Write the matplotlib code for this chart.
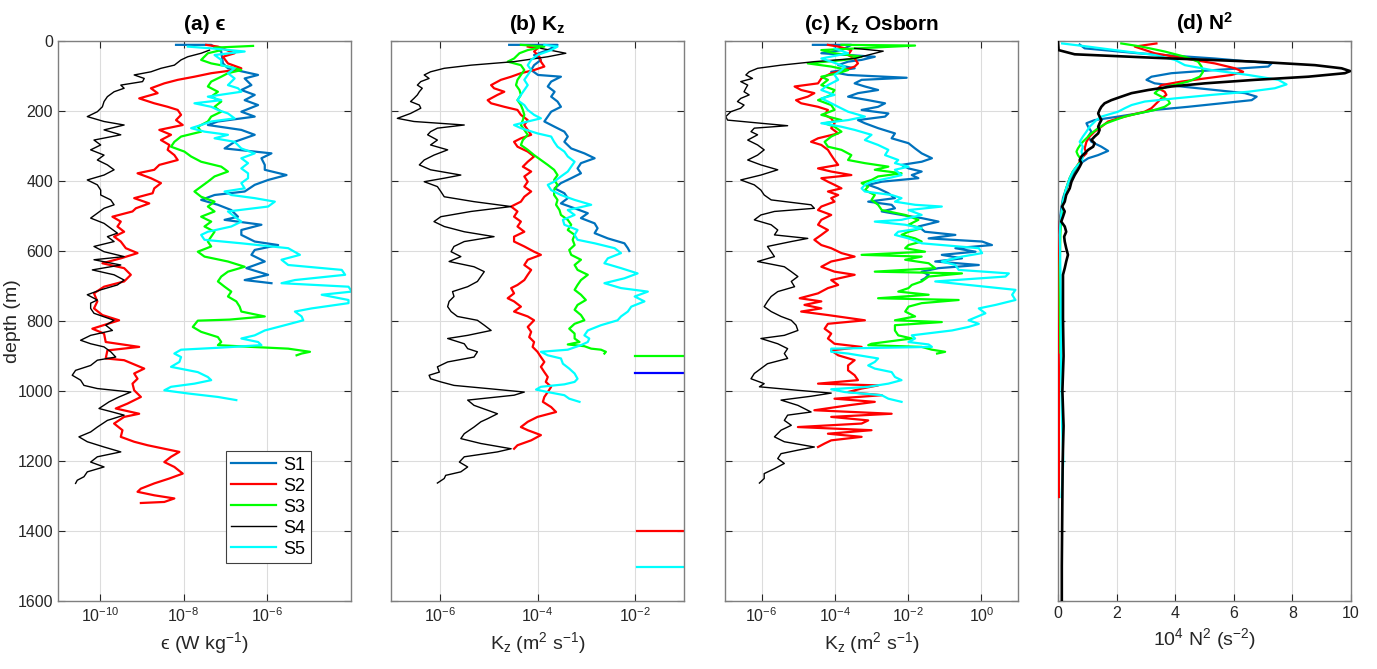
import numpy as np
import matplotlib.pyplot as plt
from matplotlib.ticker import NullLocator

plt.rcParams['font.family'] = ['Liberation Sans', 'DejaVu Sans']
plt.rcParams['mathtext.fontset'] = 'custom'
plt.rcParams['mathtext.rm'] = 'Liberation Sans'
plt.rcParams['mathtext.it'] = 'Liberation Sans:italic'
plt.rcParams['mathtext.bf'] = 'Liberation Sans:bold'

stations = ['S1', 'S2', 'S3', 'S4', 'S5']
colors = ['#0072BD', '#FF0000', '#00FF00', '#000000', '#00FFFF']

# ---------- (a) epsilon : depth (m) and log10(eps) ----------
eps1_z = [11, 11, 30, 64, 78, 97, 107, 126, 140, 154, 169, 183, 202, 216, 230, 240, 254, 268, 288, 307,
          321, 335, 354, 368, 383, 397, 411, 430, 440, 454, 468, 483, 502, 511, 525, 540, 554, 573, 583, 597,
          611, 630, 649, 668, 683, 692]
eps1_v = [-8.18, -7.34, -7.1, -7.06, -6.94, -6.22, -6.54, -6.38, -6.62, -6.30, -6.54, -6.22, -6.62, -6.30, -7.18,
          -7.42, -6.62, -6.30, -6.78, -7.02, -5.90, -6.14, -6.06, -6.06, -5.54, -5.98, -6.30, -6.54, -7.26, -7.58,
          -7.18, -6.86, -6.70, -7.02, -6.14, -6.62, -6.62, -6.30, -5.74, -6.30, -6.38, -6.06, -6.50, -5.98, -6.54,
          -5.90]
eps2_z = [11, 16, 35, 45, 64, 78, 83, 92, 102, 111, 121, 135, 149, 164, 178, 188, 197, 211, 226, 240,
          254, 268, 283, 297, 311, 326, 340, 354, 368, 378, 392, 406, 421, 435, 449, 464, 478, 487, 502, 516,
          530, 545, 559, 573, 592, 606, 621, 635, 649, 668, 687, 702, 721, 744, 764, 783,
          798, 822, 836, 860, 874, 884, 907, 912, 936, 950, 965, 979, 998, 1017, 1036, 1050, 1065, 1074, 1093,
          1112, 1131, 1145, 1155, 1165, 1174, 1188, 1203, 1217, 1236, 1250, 1264, 1279, 1288, 1298, 1307, 1317,
          1320]
eps2_v = [-7.46, -7.18, -6.78, -7.06, -6.94, -6.62, -6.78, -7.34, -7.74, -8.14, -8.46, -8.78, -8.62, -9.06, -8.70,
          -8.38, -8.14, -8.06, -8.18, -8.02, -8.58, -8.30, -8.54, -8.34, -8.38, -8.22, -8.14, -8.58, -8.70, -9.10,
          -8.78, -8.54, -8.70, -8.74, -9.18, -8.82, -9.14, -9.22, -9.70, -9.50, -9.58, -9.42, -9.66, -9.50, -9.38,
          -9.10, -9.50, -9.94, -9.42, -9.26, -9.42, -9.90, -10.14, -10.06, -10.14, -9.94,
          -9.54, -10.18, -9.90, -9.86, -9.06, -9.82, -9.86, -9.42, -8.94, -9.18, -9.10, -9.22, -9.18, -9.02, -9.34,
          -9.62, -9.06, -9.42, -9.66, -9.46, -9.50, -9.18, -8.86, -8.46, -8.10, -8.30, -8.46, -8.22, -8.02, -8.34,
          -8.70, -9.02, -9.10, -8.70, -8.22, -8.46, -9.02]
eps3_z = [14, 19, 26, 35, 54, 64, 73, 83, 92, 102, 116, 130, 145, 159, 173, 188, 202, 216, 230, 245,
          259, 273, 288, 302, 316, 330, 345, 359, 373, 387, 402, 416, 430, 445, 459, 473, 487, 502, 516, 530,
          545, 559, 573, 587, 602, 616, 630, 645, 659, 673, 687, 702, 716, 730, 744, 759, 773, 787,
          796, 799, 817, 831, 846, 860, 869, 874, 879, 888, 893, 898]
eps3_v = [-6.34, -7.26, -7.10, -7.42, -7.58, -7.34, -6.94, -6.62, -6.94, -7.10, -7.34, -7.42, -7.18, -7.34, -7.10,
          -7.26, -7.10, -7.34, -7.42, -7.66, -7.58, -8.06, -8.22, -8.30, -7.98, -7.82, -7.58, -7.10, -6.94, -7.26,
          -7.42, -7.58, -7.74, -7.58, -7.26, -7.42, -7.26, -7.58, -7.34, -7.50, -7.26, -7.34, -7.42, -7.34, -7.66,
          -7.50, -6.94, -6.54, -6.94, -7.10, -7.18, -7.02, -6.86, -6.94, -6.74, -6.66, -6.62, -6.06,
          -6.9, -7.66, -7.78, -7.58, -7.18, -7.10, -7.18, -6.38, -5.50, -4.98, -5.18, -5.30]
eps4_z = [26, 35, 45, 54, 69, 78, 88, 97, 107, 116, 126, 135, 145, 159, 173, 188, 202, 216, 230, 240,
          254, 268, 283, 297, 311, 326, 340, 354, 368, 383, 397, 411, 426, 440, 454, 468, 478, 492, 506, 521,
          535, 549, 559, 573, 587, 602, 616, 625, 640, 654, 668, 683, 697, 711, 725, 740, 749, 764, 778,
          798, 812, 827, 841, 855, 865, 874, 888, 903, 912, 927, 941, 955, 969, 984, 993, 1003, 1017, 1031, 1050,
          1060, 1069, 1084, 1103, 1117, 1131, 1145, 1160, 1174, 1188, 1203, 1217, 1231, 1245, 1255, 1264]
eps4_v = [-7.38, -7.58, -7.90, -8.06, -8.22, -8.54, -8.78, -9.18, -8.94, -8.98, -9.50, -9.42, -9.66, -9.82, -9.90,
          -9.94, -10.06, -10.30, -9.90, -9.42, -9.90, -9.50, -10.14, -9.98, -10.22, -9.90, -10.06, -9.82, -9.66,
          -9.90, -10.30, -10.06, -9.98, -9.98, -9.74, -9.66, -9.90, -10.06, -10.22, -9.90, -9.74, -9.58, -9.82,
          -9.66, -10.14, -9.90, -9.42, -10.14, -9.50, -10.18, -9.66, -9.42, -9.58, -9.98, -10.30, -10.06, -10.22,
          -10.22, -10.14,
          -9.66, -9.86, -9.70, -10.22, -10.46, -10.22, -9.90, -9.74, -9.62, -10.06, -10.22, -10.58, -10.66, -10.46,
          -10.38, -10.06, -9.26, -9.54, -9.78, -10.02, -9.70, -9.42, -9.82, -10.06, -10.22, -10.50, -10.30, -9.90,
          -9.50, -10.06, -10.22, -9.90, -10.30, -10.38, -10.54, -10.58]
eps5_z = [16, 21, 30, 40, 54, 69, 78, 92, 107, 126, 135, 145, 159, 169, 178, 188, 197, 207, 221, 230,
          240, 249, 259, 268, 278, 288, 307, 321, 335, 349, 364, 378, 392, 406, 421, 430, 440, 449, 459, 473,
          487, 502, 516, 530, 545, 554, 568, 578, 592, 611, 625, 640, 654, 668, 683, 692, 702, 716, 725, 740,
          749, 764, 773, 787,
          798, 812, 827, 841, 850, 860, 869, 876, 882, 893, 903, 917, 931, 946, 960, 969, 979, 988, 998, 1007,
          1017, 1026]
eps5_v = [-7.90, -7.34, -6.54, -7.26, -7.10, -7.10, -6.78, -6.94, -6.78, -6.94, -6.70, -6.62, -7.42, -7.10, -7.74,
          -7.34, -7.18, -6.94, -6.78, -7.34, -7.58, -7.82, -7.50, -6.94, -7.26, -6.78, -6.62, -6.30, -6.62, -6.46,
          -6.62, -6.46, -6.46, -6.62, -6.54, -7.02, -6.86, -6.30, -5.82, -5.98, -6.94, -6.78, -6.62, -6.86, -7.42,
          -7.58, -7.50, -6.62, -5.50, -5.22, -5.66, -5.50, -4.22, -4.14, -5.34, -5.66, -4.06, -3.98, -4.70, -4.06,
          -4.06, -4.94, -5.34, -5.18,
          -5.14, -5.58, -6.06, -6.30, -6.62, -6.22, -6.14, -7.10, -8.06, -8.22, -8.06, -8.10, -8.30, -7.66, -7.42,
          -7.34, -7.74, -8.30, -8.46, -7.90, -7.18, -6.74]

# ---------- (b) Kz : depth (m) and log10(Kz) ----------
kz1_z = [11, 11, 26, 40, 54, 69, 83, 97, 102, 116, 130, 145, 159, 173, 188, 202, 216, 230, 245, 259,
         273, 288, 307, 321, 335, 349, 364, 378, 392, 406, 421, 435, 449, 464, 478, 492, 506, 521, 535, 549,
         564, 578, 592, 600]
kz1_v = [-4.58, -3.59, -3.79, -4.07, -3.93, -4.07, -4.13, -3.99, -3.52, -3.72, -3.79, -3.65, -3.72, -3.59, -3.52,
         -3.72, -3.79, -3.86, -3.65, -3.45, -3.38, -3.45, -3.31, -3.04, -2.83, -3.11, -3.18, -3.11, -3.31, -3.52,
         -3.65, -3.45, -3.38, -3.52, -3.24, -2.97, -3.11, -2.83, -2.77, -2.83, -2.56, -2.22, -2.15, -2.12]
kz2_z = [16, 21, 30, 45, 59, 73, 83, 92, 102, 111, 126, 135, 145, 154, 169, 178, 188, 197, 211, 226,
         240, 254, 268, 278, 288, 302, 316, 330, 345, 359, 373, 387, 402, 416, 430, 445, 459, 473, 487, 502,
         516, 530, 545, 559, 573, 587, 602, 611, 625, 640, 654, 668, 683, 697, 706, 721, 735, 744, 759, 773, 787,
         798, 817, 831, 846, 860, 874, 888, 903, 917, 931, 946, 960, 974, 988, 1003, 1017, 1031, 1046, 1060,
         1074, 1088, 1103, 1112, 1126, 1141, 1155, 1165]
kz2_v = [-4.20, -4.00, -4.07, -3.96, -3.93, -3.86, -4.07, -4.34, -4.54, -4.75, -4.95, -4.89, -4.68, -4.82, -5.02,
         -4.95, -4.68, -4.41, -4.34, -4.20, -4.27, -4.20, -4.13, -4.34, -4.48, -4.41, -4.20, -4.07, -4.20, -4.30,
         -4.13, -4.27, -4.20, -4.27, -4.13, -4.27, -4.34, -4.54, -4.41, -4.48, -4.34, -4.41, -4.27, -4.48, -4.48,
         -4.27, -4.07, -3.93, -4.20, -4.27, -4.13, -4.20, -4.27, -4.41, -4.54, -4.48, -4.61, -4.48, -4.34, -4.48,
         -4.20,
         -4.07, -4.20, -4.13, -4.17, -4.07, -4.10, -4.00, -3.93, -3.86, -3.93, -3.86, -3.79, -3.83, -3.72, -3.79,
         -3.86, -3.89, -3.72, -3.62, -4.00, -4.20, -4.34, -4.20, -3.93, -4.13, -4.41, -4.48]
kz3_z = [11, 16, 26, 35, 50, 59, 69, 83, 97, 111, 126, 140, 154, 169, 183, 197, 211, 226, 240, 254,
         268, 283, 297, 311, 326, 340, 354, 368, 383, 397, 411, 426, 440, 454, 468, 483, 497, 511, 525, 540,
         554, 568, 583, 597, 611, 625, 640, 654, 668, 683, 697, 711, 725, 740, 754, 768, 783,
         798, 808, 822, 836, 850, 860, 867, 872, 879, 882, 888, 893]
kz3_v = [-4.34, -3.86, -4.20, -4.37, -4.48, -4.61, -4.34, -4.27, -4.34, -4.41, -4.44, -4.37, -4.34, -4.41, -4.34,
         -4.30, -4.27, -4.30, -4.34, -4.27, -4.20, -4.30, -4.34, -4.20, -4.07, -3.93, -3.79, -3.66, -3.59, -3.66,
         -3.59, -3.66, -3.66, -3.59, -3.62, -3.55, -3.52, -3.38, -3.31, -3.38, -3.24, -3.28, -3.24, -3.35, -3.31,
         -3.11, -3.24, -3.18, -2.97, -3.11, -3.18, -3.24, -3.11, -3.01, -3.18, -3.24, -3.11,
         -3.04, -3.24, -3.35, -3.24, -3.24, -3.14, -3.38, -3.04, -2.90, -2.70, -2.60, -2.63]
kz4_z = [21, 35, 45, 59, 69, 78, 88, 97, 107, 116, 126, 135, 145, 154, 164, 173, 183, 192, 207, 221,
         230, 240, 249, 259, 268, 283, 297, 311, 326, 340, 354, 368, 383, 392, 402, 416, 430, 445, 459, 473,
         487, 502, 516, 530, 545, 559, 573, 587, 602, 616, 630, 645, 659, 673, 687, 702, 716, 730, 744, 759,
         773, 787,
         798, 812, 827, 841, 850, 865, 879, 888, 903, 917, 931, 946, 955, 965, 974, 984, 993, 1003, 1012, 1026,
         1041, 1055, 1065, 1079, 1088, 1103, 1122, 1136, 1150, 1165, 1174, 1188, 1203, 1217, 1231, 1241, 1250,
         1263]
kz4_v = [-3.93, -3.42, -3.79, -4.48, -5.36, -5.91, -6.19, -6.32, -6.22, -6.39, -6.46, -6.36, -6.42, -6.46, -6.53,
         -6.60, -6.42, -6.39, -6.60, -6.87, -6.53, -5.50, -6.05, -6.19, -6.25, -6.05, -6.19, -5.84, -6.12, -6.32,
         -6.42, -6.19, -5.57, -5.91, -6.32, -6.05, -5.98, -5.91, -5.30, -4.54, -5.36, -5.98, -6.12, -5.91, -5.50,
         -4.89, -5.50, -5.71, -5.77, -5.57, -5.81, -5.30, -5.09, -5.16, -5.23, -5.43, -5.74, -5.71, -5.81, -5.84,
         -5.77, -5.64,
         -5.23, -5.09, -4.95, -5.43, -5.84, -5.50, -5.43, -5.23, -5.30, -5.84, -6.05, -6.01, -6.22, -6.19, -5.98,
         -5.71, -5.02, -4.27, -4.48, -5.43, -5.30, -5.02, -4.82, -5.02, -5.16, -5.30, -5.50, -5.57, -5.16, -4.54,
         -4.82, -5.50, -5.60, -5.43, -5.57, -5.88, -5.91, -6.05]
kz5_z = [11, 16, 26, 40, 54, 69, 83, 97, 111, 126, 140, 154, 169, 183, 197, 211, 221, 230, 240, 249,
         264, 273, 288, 302, 316, 330, 345, 359, 373, 387, 402, 411, 426, 440, 454, 468, 483, 497, 511, 525,
         540, 554, 568, 578, 592, 606, 621, 635, 649, 664, 678, 692, 706, 716, 730, 744, 759, 773, 787,
         798, 812, 827, 841, 850, 860, 869, 882, 888, 898, 907, 922, 936, 950, 965, 974, 981, 988, 996, 1003,
         1012, 1022, 1031]
kz5_v = [-3.86, -3.59, -3.72, -4.00, -4.13, -4.20, -4.13, -4.20, -4.27, -4.20, -4.27, -4.34, -4.41, -4.27, -4.20,
         -4.07, -3.93, -4.20, -4.48, -4.34, -4.00, -3.72, -3.66, -3.59, -3.45, -3.38, -3.24, -3.31, -3.38, -3.52,
         -3.66, -3.79, -3.72, -3.52, -3.24, -2.90, -3.38, -3.24, -3.48, -3.45, -3.18, -3.24, -3.18, -2.83, -2.42,
         -2.29, -2.56, -2.63, -2.29, -1.95, -2.22, -2.63, -2.29, -1.74, -2.01, -1.81, -2.08, -2.15, -2.29,
         -2.36, -2.70, -2.97, -3.04, -2.94, -2.97, -3.11, -3.38, -3.93, -3.79, -3.52, -3.48, -3.35, -3.24, -3.18,
         -3.24, -3.45, -3.93, -4.03, -3.79, -3.45, -3.35, -3.14]
# short horizontal segments at the right edge of panel (b)
kz_extra_z = [901, 948, 1400, 1503]
kz_extra_start = [-2.01, -2.0, -1.96, -1.96]
kz_extra_colors = ['#00FF00', '#0000FF', '#FF0000', '#00FFFF']

# ---------- (c) Kz Osborn : depth (m) and log10(Kz) ----------
ko1_z = [11, 11, 26, 35, 45, 54, 59, 69, 78, 88, 97, 105, 111, 121, 130, 140, 149, 159, 169, 178,
         188, 197, 207, 216, 226, 235, 249, 264, 278, 292, 307, 321, 335, 345, 354, 364, 373, 383, 392, 402,
         411, 421, 435, 449, 459, 468, 478, 487, 497, 506, 516, 530, 545, 554, 564, 573, 583, 592, 602, 611,
         621, 630, 640, 649, 659, 668, 678, 683]
ko1_v = [-4.60, -3.55, -3.82, -4.37, -2.91, -3.27, -3.64, -3.91, -3.46, -4.10, -3.64, -2.04, -3.27, -3.46, -3.18,
         -2.82, -3.37, -3.64, -3.09, -2.63, -2.82, -3.27, -2.54, -2.63, -3.37, -3.18, -2.82, -2.36, -2.45, -1.99,
         -1.81, -1.63, -1.35, -1.63, -2.18, -1.99, -1.63, -1.90, -1.72, -2.72, -3.09, -2.82, -2.54, -2.36, -3.09,
         -2.45, -2.36, -2.72, -2.18, -1.63, -1.17, -1.72, -1.54, -0.71, -1.44, 0.02, 0.29, -0.71, -0.16, -1.08,
         -0.53, -1.26, -0.07, -1.17, -1.63, -1.44, -1.54, -1.63]
ko2_z = [11, 16, 26, 40, 50, 64, 73, 83, 92, 107, 121, 130, 140, 149, 159, 169, 178, 188, 197, 211,
         221, 235, 249, 264, 278, 288, 297, 311, 326, 340, 354, 364, 373, 383, 392, 402, 411, 421, 430, 440,
         449, 459, 473, 483, 497, 511, 525, 540, 554, 568, 583, 592, 606, 616, 630, 645, 659, 668, 683, 697,
         706, 721, 735, 744, 754, 764, 773, 783,
         798, 808, 822, 836, 850, 865, 874, 884, 898, 912, 927, 941, 955, 969, 979, 984, 993, 1003, 1012, 1022,
         1031, 1041, 1055, 1065, 1074, 1084, 1093, 1103, 1112, 1122, 1131, 1141, 1150, 1160]
ko2_v = [-4.19, -3.91, -3.55, -3.64, -3.46, -3.37, -3.46, -3.73, -4.10, -4.37, -4.46, -5.10, -4.92, -4.56, -4.74,
         -5.06, -4.92, -4.46, -4.19, -4.28, -4.10, -4.01, -4.10, -3.91, -4.46, -4.65, -4.37, -4.19, -4.10, -4.01,
         -3.91, -4.46, -4.10, -3.55, -4.37, -4.19, -4.01, -3.82, -4.19, -3.91, -4.10, -4.01, -4.37, -4.46, -4.10,
         -4.37, -4.46, -4.19, -4.37, -4.56, -4.37, -4.10, -3.82, -3.46, -4.10, -4.37, -4.01, -3.46, -4.10, -3.91,
         -4.19, -4.46, -4.96, -4.37, -4.83, -4.37, -4.92, -4.19,
         -3.18, -4.19, -4.28, -4.10, -4.19, -4.01, -3.27, -4.10, -3.91, -3.46, -3.64, -3.64, -3.46, -3.37, -4.46,
         -2.82, -3.27, -3.64, -2.72, -4.01, -2.91, -3.64, -4.56, -2.45, -4.10, -3.09, -3.27, -5.01, -3.00, -4.19,
         -3.27, -4.10, -4.28, -4.46]
ko3_z = [11, 13, 26, 35, 45, 54, 64, 73, 83, 92, 102, 111, 126, 140, 154, 169, 183, 197, 211, 226,
         235, 245, 259, 273, 288, 302, 311, 326, 340, 349, 359, 368, 378, 387, 397, 406, 416, 426, 440, 454,
         468, 483, 497, 511, 525, 535, 545, 554, 564, 573, 583, 592, 602, 611, 616, 625, 635, 649, 659, 664,
         673, 687, 697, 706, 716, 725, 735, 740, 749, 759, 773, 787,
         798, 803, 812, 827, 841, 850, 865, 869, 874, 882, 888, 893]
ko3_v = [-3.82, -1.81, -4.37, -4.01, -3.27, -3.73, -4.74, -4.10, -3.64, -3.91, -4.37, -4.19, -4.37, -4.01, -4.10,
         -4.46, -4.10, -4.01, -4.37, -3.82, -4.28, -4.01, -3.82, -4.10, -4.28, -4.19, -3.82, -3.55, -3.64, -3.18,
         -2.54, -2.91, -2.18, -2.82, -3.00, -3.27, -3.09, -3.18, -2.91, -3.00, -2.82, -2.72, -2.08, -1.72, -1.99,
         -1.63, -1.99, -2.18, -1.81, -1.63, -1.99, -2.08, -1.54, -3.27, -1.63, -2.08, -1.44, -1.26, -2.91, -0.53,
         -1.44, -1.63, -1.90, -1.99, -2.27, -1.44, -2.82, -0.62, -1.63, -1.99, -2.08, -1.81,
         -2.36, -1.08, -2.36, -2.36, -2.27, -1.90, -3.00, -3.09, -1.63, -1.35, -0.99, -1.21]
ko4_z = [21, 29, 40, 50, 59, 69, 78, 88, 97, 107, 116, 126, 135, 145, 154, 164, 173, 183, 192, 202,
         216, 226, 235, 242, 249, 259, 268, 283, 297, 311, 326, 340, 354, 368, 383, 397, 411, 426, 440, 454,
         468, 478, 487, 497, 511, 525, 540, 554, 564, 573, 587, 602, 616, 630, 645, 659, 673, 687, 702, 716,
         730, 744, 759, 773, 787,
         798, 812, 827, 841, 850, 865, 879, 893, 907, 922, 936, 950, 965, 979, 988, 998, 1006, 1015, 1026, 1041,
         1060, 1069, 1084, 1098, 1112, 1131, 1145, 1160, 1169, 1179, 1193, 1207, 1222, 1236, 1250, 1263]
ko4_v = [-3.46, -2.68, -3.09, -3.46, -4.56, -5.47, -6.11, -6.34, -6.43, -6.25, -6.57, -6.38, -6.43, -6.48, -6.34,
         -6.57, -6.66, -6.48, -6.57, -6.84, -6.98, -6.93, -6.02, -5.29, -6.20, -6.29, -6.11, -6.38, -6.11, -5.93,
         -6.11, -6.38, -6.02, -5.56, -6.02, -6.57, -6.20, -6.02, -5.93, -5.74, -4.65, -4.56, -5.65, -6.02, -6.20,
         -5.74, -5.56, -5.65, -4.74, -5.19, -5.84, -5.74, -5.65, -6.11, -5.38, -5.19, -5.01, -5.19, -5.10, -5.56,
         -5.74, -5.84, -5.93, -5.74, -5.47,
         -5.19, -5.06, -5.01, -5.38, -6.02, -5.56, -5.29, -5.38, -5.29, -5.84, -6.02, -6.20, -6.29, -5.93, -6.06,
         -5.01, -4.10, -4.65, -5.47, -5.01, -4.65, -5.29, -5.38, -5.19, -5.47, -5.65, -5.38, -4.56, -5.01, -5.47,
         -5.56, -5.38, -5.65, -5.93, -5.93, -6.06]
ko5_z = [21, 35, 50, 59, 73, 83, 97, 111, 126, 140, 154, 164, 173, 188, 202, 216, 226, 235, 245, 254,
         268, 283, 297, 311, 326, 340, 349, 359, 368, 383, 392, 402, 411, 421, 430, 440, 449, 459, 468, 473,
         483, 497, 511, 516, 525, 535, 545, 554, 564, 578, 592, 606, 616, 630, 640, 654, 664, 673, 687, 697,
         711, 725, 740, 754, 764, 778,
         798, 808, 817, 827, 841, 850, 860, 867, 874, 879, 888, 893, 907, 917, 927, 936, 946, 960, 969, 979,
         988, 995, 1003, 1012, 1022, 1031]
ko5_v = [-4.01, -3.64, -4.37, -4.10, -3.73, -3.82, -4.01, -3.91, -4.19, -4.37, -4.01, -4.37, -4.19, -3.91, -3.64,
         -3.18, -3.64, -4.37, -3.82, -3.46, -3.00, -3.18, -2.82, -2.54, -2.63, -2.27, -2.36, -1.99, -2.36, -2.18,
         -2.54, -3.00, -3.18, -3.27, -3.18, -2.45, -2.18, -2.36, -1.81, -1.08, -1.99, -1.63, -2.18, -2.91, -2.08,
         -1.63, -2.27, -2.36, -1.99, -1.63, -0.07, 0.02, -0.53, -1.08, -0.71, -0.62, 0.75, 0.66, -1.26, -0.35,
         0.93, 0.84, 0.93, 0.39, -0.07, 0.11,
         -0.35, -0.07, -0.35, -0.80, -1.90, -1.81, -1.99, -1.44, -1.35, -4.10, -4.10, -3.64, -2.82, -2.91, -3.09,
         -2.91, -2.45, -2.36, -2.18, -2.54, -3.09, -4.10, -3.73, -2.72, -2.54, -2.18]

# ---------- (d) N2 : depth (m) and 1e4 N^2 ----------
n1_z = [10, 21, 35, 50, 64, 73, 83, 92, 102, 111, 121, 130, 140, 149, 159, 169, 178, 188, 197, 207,
        216, 226, 235, 245, 259, 273, 288, 302, 314, 326, 335, 345, 354, 373, 392, 421, 449, 478, 516, 554,
        592, 630, 668, 700]
n1_v = [0.74, 0.91, 2.73, 5.35, 7.29, 7.18, 5.35, 3.87, 3.19, 3.02, 3.30, 4.21, 5.35, 6.38, 6.78, 6.61, 5.58,
        4.44, 3.30, 2.73, 2.05, 1.25, 0.97, 1.03, 1.14, 1.03, 1.14, 1.48, 1.71, 1.37, 1.03, 0.85, 0.68, 0.57,
        0.46, 0.28, 0.17, 0.11, 0.06, 0.02, 0.02, 0.02, 0.02, 0.02]
n2_z = [7, 16, 35, 50, 64, 78, 88, 97, 107, 116, 126, 135, 145, 154, 164, 173, 183, 192, 202, 211,
        221, 230, 245, 259, 273, 288, 307, 321, 335, 354, 373, 392, 411, 440, 478, 516, 554, 602, 649, 800,
        1000, 1200, 1303]
n2_v = [3.36, 2.62, 3.30, 4.33, 5.35, 6.04, 6.32, 5.92, 5.01, 4.21, 3.53, 3.42, 3.64, 3.70, 3.53, 3.42, 3.30,
        3.19, 2.96, 2.51, 2.05, 1.71, 1.48, 1.25, 1.08, 0.97, 0.91, 0.97, 0.80, 0.68, 0.51, 0.40, 0.32, 0.23,
        0.14, 0.06, 0.04, 0.03, 0.03, 0.03, 0.03, 0.03, 0.03]
n3_z = [7, 16, 30, 45, 59, 73, 88, 102, 116, 130, 140, 149, 159, 169, 178, 188, 197, 207, 216, 226,
        235, 249, 264, 278, 292, 307, 316, 326, 340, 354, 373, 392, 421, 459, 506, 554, 649, 744, 890]
n3_v = [2.16, 2.85, 3.64, 4.33, 4.78, 4.90, 4.95, 4.84, 4.44, 3.76, 3.42, 3.30, 3.53, 3.76, 3.82, 3.64, 3.30,
        2.73, 2.28, 1.94, 1.65, 1.37, 1.14, 0.97, 0.80, 0.68, 0.63, 0.68, 0.80, 0.68, 0.51, 0.40, 0.28, 0.17,
        0.11, 0.08, 0.06, 0.06, 0.08]
n4_z = [4, 26, 38, 48, 59, 69, 78, 86, 92, 102, 111, 121, 130, 140, 149, 159, 169, 178, 188, 197,
        207, 216, 226, 235, 245, 254, 264, 273, 283, 292, 302, 311, 321, 330, 340, 349, 359, 368, 383, 402,
        421, 440, 459, 473, 487, 502, 516, 530, 545, 559, 573, 592, 611, 630, 649, 668, 706, 744, 792, 900,
        1000, 1100, 1200, 1300, 1400, 1500, 1600]
n4_v = [0.0, 0.02, 0.57, 3.30, 6.72, 8.77, 9.68, 9.97, 9.79, 8.54, 6.72, 5.01, 3.87, 3.08, 2.51, 2.16, 1.82,
        1.59, 1.48, 1.42, 1.37, 1.42, 1.48, 1.42, 1.37, 1.42, 1.37, 1.25, 1.14, 1.25, 1.20, 1.03, 0.91, 0.80,
        0.74, 0.80, 0.74, 0.68, 0.57, 0.46, 0.40, 0.28, 0.23, 0.14, 0.23, 0.17, 0.11, 0.23, 0.28, 0.21, 0.23,
        0.28, 0.34, 0.28, 0.23, 0.17, 0.17, 0.17, 0.17, 0.19, 0.15, 0.19, 0.16, 0.15, 0.14, 0.13, 0.13]
n5_z = [7, 16, 26, 40, 54, 69, 83, 97, 111, 124, 135, 145, 154, 164, 173, 183, 192, 202, 216, 226,
        235, 245, 259, 273, 288, 302, 316, 330, 345, 359, 373, 392, 421, 459, 506, 554, 649, 744, 900, 1000,
        1100, 1200, 1303]
n5_v = [0.14, 1.03, 1.94, 3.30, 3.99, 4.33, 5.24, 6.49, 7.52, 7.80, 7.40, 6.49, 5.24, 3.99, 2.96, 2.51, 2.28,
        2.05, 1.48, 1.31, 1.20, 1.08, 0.97, 0.85, 0.74, 0.85, 0.80, 0.85, 0.80, 0.63, 0.51, 0.40, 0.28, 0.17,
        0.09, 0.06, 0.08, 0.10, 0.10, 0.12, 0.14, 0.18, 0.12]

eps_data = [(eps1_z, eps1_v), (eps2_z, eps2_v), (eps3_z, eps3_v), (eps4_z, eps4_v), (eps5_z, eps5_v)]
kz_data = [(kz1_z, kz1_v), (kz2_z, kz2_v), (kz3_z, kz3_v), (kz4_z, kz4_v), (kz5_z, kz5_v)]
ko_data = [(ko1_z, ko1_v), (ko2_z, ko2_v), (ko3_z, ko3_v), (ko4_z, ko4_v), (ko5_z, ko5_v)]
n2_data = [(n1_z, n1_v), (n2_z, n2_v), (n3_z, n3_v), (n4_z, n4_v), (n5_z, n5_v)]

fig = plt.figure(figsize=(13.77, 6.69), dpi=100)
W, H = 1377, 669
lefts = [58, 391, 725, 1058]
axs = [fig.add_axes([l / W, 68 / H, 293 / W, 560 / H]) for l in lefts]

TXT = '#262626'

def style(ax):
    ax.set_ylim(1600, 0)
    ax.set_yticks(range(0, 1601, 200))
    ax.grid(True, color='#dcdcdc', linewidth=0.8)
    ax.set_axisbelow(True)
    ax.tick_params(direction='in', length=5, top=True, right=True, labelsize=11.5,
                   colors=TXT, width=0.8)
    ax.tick_params(which='minor', length=0)
    for s in ax.spines.values():
        s.set_color('#7f7f7f')
        s.set_linewidth(1.0)

lw_main = 1.6
lw_black = 1.0
lab_fs = 14
tit_fs = 15

# (a)
ax = axs[0]
handles = []
for i, (z, v) in enumerate(eps_data):
    lw = lw_black if i == 3 else lw_main
    h, = ax.plot(10.0 ** np.array(v), z, color=colors[i], lw=lw, label=stations[i])
    handles.append(h)
ax.set_xscale('log')
ax.set_xlim(1e-11, 1e-4)
ax.set_xticks([1e-10, 1e-8, 1e-6])
ax.xaxis.set_minor_locator(NullLocator())
style(ax)
ax.set_ylabel('depth (m)', fontsize=lab_fs, color=TXT)
ax.yaxis.set_label_coords(-0.125, 0.5)
ax.set_xlabel('ϵ (W kg$^{-1}$)', fontsize=lab_fs, color=TXT)
ax.set_title('(a) ϵ', fontsize=tit_fs, fontweight='bold', pad=8)
leg = ax.legend(handles=handles, loc='lower right', bbox_to_anchor=(0.8635, 0.068), fontsize=13,
                frameon=True, fancybox=False, edgecolor='#404040', framealpha=1, borderaxespad=0,
                handlelength=2.5, borderpad=0.3, labelspacing=0.22, handletextpad=0.4)
leg.get_frame().set_linewidth(0.8)

# (b)
ax = axs[1]
for i, (z, v) in enumerate(kz_data):
    lw = lw_black if i == 3 else lw_main
    ax.plot(10.0 ** np.array(v), z, color=colors[i], lw=lw)
for zz, x0, c in zip(kz_extra_z, kz_extra_start, kz_extra_colors):
    ax.plot([10.0 ** x0, 10.0 ** -0.9], [zz, zz], color=c, lw=lw_main)
ax.set_xscale('log')
ax.set_xlim(1e-7, 1e-1)
ax.set_xticks([1e-6, 1e-4, 1e-2])
ax.xaxis.set_minor_locator(NullLocator())
style(ax)
ax.set_yticklabels([])
ax.set_xlabel(r'K$_\mathrm{z}$ (m$^2$ s$^{-1}$)', fontsize=lab_fs, color=TXT)
ax.set_title(r'(b) K$_\mathbf{z}$', fontsize=tit_fs, fontweight='bold', pad=8)

# (c)
ax = axs[2]
for i, (z, v) in enumerate(ko_data):
    lw = lw_black if i == 3 else lw_main
    ax.plot(10.0 ** np.array(v), z, color=colors[i], lw=lw)
ax.set_xscale('log')
ax.set_xlim(1e-7, 1e1)
ax.set_xticks([1e-6, 1e-4, 1e-2, 1e0])
ax.xaxis.set_minor_locator(NullLocator())
style(ax)
ax.set_yticklabels([])
ax.set_xlabel(r'K$_\mathrm{z}$ (m$^2$ s$^{-1}$)', fontsize=lab_fs, color=TXT)
ax.set_title(r'(c) K$_\mathbf{z}$ Osborn', fontsize=tit_fs, fontweight='bold', pad=8)

# (d)
ax = axs[3]
for i, (z, v) in enumerate(n2_data):
    lw = 1.9 if i == 3 else lw_main
    ax.plot(v, z, color=colors[i], lw=lw, zorder=5 if i == 3 else 3)
ax.set_xlim(0, 10)
ax.set_xticks(range(0, 11, 2))
style(ax)
ax.set_yticklabels([])
ax.set_xlabel(r'10$^4$ N$^2$ (s$^{-2}$)', fontsize=lab_fs, color=TXT)
ax.set_title(r'(d) N$^\mathbf{2}$', fontsize=tit_fs, fontweight='bold', pad=8)

fig.savefig('out.png', dpi=100, facecolor='white')
